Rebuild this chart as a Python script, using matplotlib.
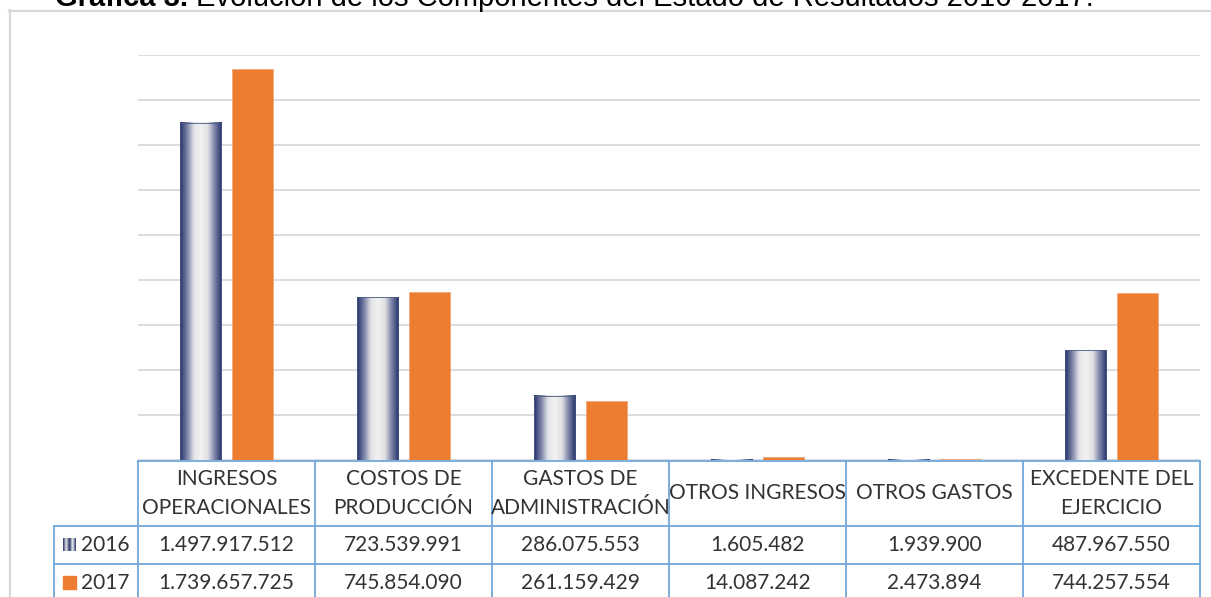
import matplotlib
matplotlib.use("Agg")
import matplotlib.pyplot as plt
import matplotlib.transforms as mtransforms
from matplotlib.colors import LinearSegmentedColormap
from matplotlib.lines import Line2D
import numpy as np

# estado de resultados 2016 vs 2017
categorias = ["INGRESOS\nOPERACIONALES", "COSTOS DE\nPRODUCCIÓN", "GASTOS DE\nADMINISTRACIÓN",
              "OTROS INGRESOS", "OTROS GASTOS", "EXCEDENTE DEL\nEJERCICIO"]
anios = ["2016", "2017"]
v2016 = [1497917512, 723539991, 286075553, 1605482, 1939900, 487967550]
v2017 = [1739657725, 745854090, 261159429, 14087242, 2473894, 744257554]

W, H = 1211, 597
NARANJA = "#ED7D31"
AZUL = "#27346B"
LINEA_TABLA = "#6FA8DC"
GRIS_TXT = "#333333"
FUENTE = "Lato"
FS = 15

fig = plt.figure(figsize=(W / 100, H / 100), dpi=100)

def fx(px):
    return px / W

def fy(py):
    return 1 - py / H

ax = fig.add_axes([fx(138), fy(460), fx(1200) - fx(138), fy(55) - fy(460)])

x = np.arange(len(categorias))
ancho = 0.232
off = 0.145

b16 = ax.bar(x - off, v2016, ancho, facecolor="none", edgecolor="#4a5888", linewidth=0.6, zorder=3)
b17 = ax.bar(x + off, v2017, ancho, color=NARANJA, edgecolor="#f3a878", linewidth=0.6, zorder=3)

# degradado horizontal de las barras 2016
cmap = LinearSegmentedColormap.from_list(
    "cilindro", [AZUL, "#7d84a6", "#e4e4e8", "#f2f2f2", "#e0e0e4", "#7d84a6", AZUL])
grad = np.linspace(0, 1, 64).reshape(1, -1)
for p in b16:
    x0, w, h = p.get_x(), p.get_width(), p.get_height()
    ax.imshow(grad, extent=[x0, x0 + w, 0, h], aspect="auto", cmap=cmap,
              zorder=2.5, interpolation="bilinear")

ax.set_xlim(-0.5, len(categorias) - 0.5)
ax.set_ylim(0, 1.8e9)
ax.set_yticks(np.arange(0, 1.8e9 + 1, 2e8))
ax.grid(axis="y", color="#d9d9d9", linewidth=1.3)
ax.set_axisbelow(True)
ax.tick_params(left=False, bottom=False, labelleft=False, labelbottom=False)
for s in ax.spines.values():
    s.set_visible(False)

# tabla de datos debajo del grafico
tr = mtransforms.blended_transform_factory(ax.transData, fig.transFigure)
y_top, y_r1, y_r2 = fy(461), fy(526), fy(564)
x_lab = -0.5 - 84 / 177.0
n = len(categorias)

lineas = [
    ([-0.5, n - 0.5], [y_top, y_top]),
    ([x_lab, n - 0.5], [y_r1, y_r1]),
    ([x_lab, n - 0.5], [y_r2, y_r2]),
    ([x_lab, x_lab], [y_r1, 0]),
]
for i in range(n + 1):
    lineas.append(([i - 0.5, i - 0.5], [y_top, 0]))
for xs, ys in lineas:
    fig.add_artist(Line2D(xs, ys, transform=tr, color=LINEA_TABLA, linewidth=1.3))

def fmt(v):
    return f"{v:,}".replace(",", ".")

def txt(xv, yv, s, **kw):
    fig.text(xv, yv, s, transform=tr, ha="center", va="center",
             fontsize=FS, family=FUENTE, color=GRIS_TXT, **kw)

for i, cat in enumerate(categorias):
    partes = cat.split("\n")
    if len(partes) == 2:
        txt(i, fy(479), partes[0])
        txt(i, fy(508), partes[1])
    else:
        txt(i, fy(493), partes[0])
    txt(i, (y_r1 + y_r2) / 2, fmt(v2016[i]))
    txt(i, fy(583), fmt(v2017[i]))

# leyenda dentro de la tabla
for anio, yc in zip(anios, [(y_r1 + y_r2) / 2, fy(583)]):
    fig.text(fx(81), yc, anio, ha="left", va="center", fontsize=FS,
             family=FUENTE, color=GRIS_TXT)
ax_m = fig.add_axes([fx(63), fy(551), fx(13), fy(538) - fy(551)])
ax_m.imshow(np.tile(grad, (2, 1)), aspect="auto", cmap=LinearSegmentedColormap.from_list(
    "m", [AZUL, "#e8e8ec", AZUL, "#f2f2f2", AZUL]))
ax_m.axis("off")
fig.add_artist(plt.Rectangle((fx(63), fy(589)), fx(13), fy(576) - fy(589),
                             transform=fig.transFigure, color=NARANJA))

# marco del grafico
fig.add_artist(Line2D([fx(9.5), fx(9.5)], [fy(10), 0], color="#d9d9d9", linewidth=1.6))
fig.add_artist(Line2D([fx(9), 1], [fy(10.5), fy(10.5)], color="#d9d9d9", linewidth=1.6))

# titulo (parcialmente fuera del lienzo)
t1 = fig.text(fx(55), fy(6), "Gráfica 3.", fontsize=21, weight="bold",
              family="Liberation Sans", va="baseline")
fig.canvas.draw()
bb = t1.get_window_extent()
fig.text(bb.x1 / W + fx(8), fy(6),
         "Evolución de los Componentes del Estado de Resultados 2016-2017.",
         fontsize=21, family="Liberation Sans", va="baseline")

fig.savefig("out.png", dpi=100)
